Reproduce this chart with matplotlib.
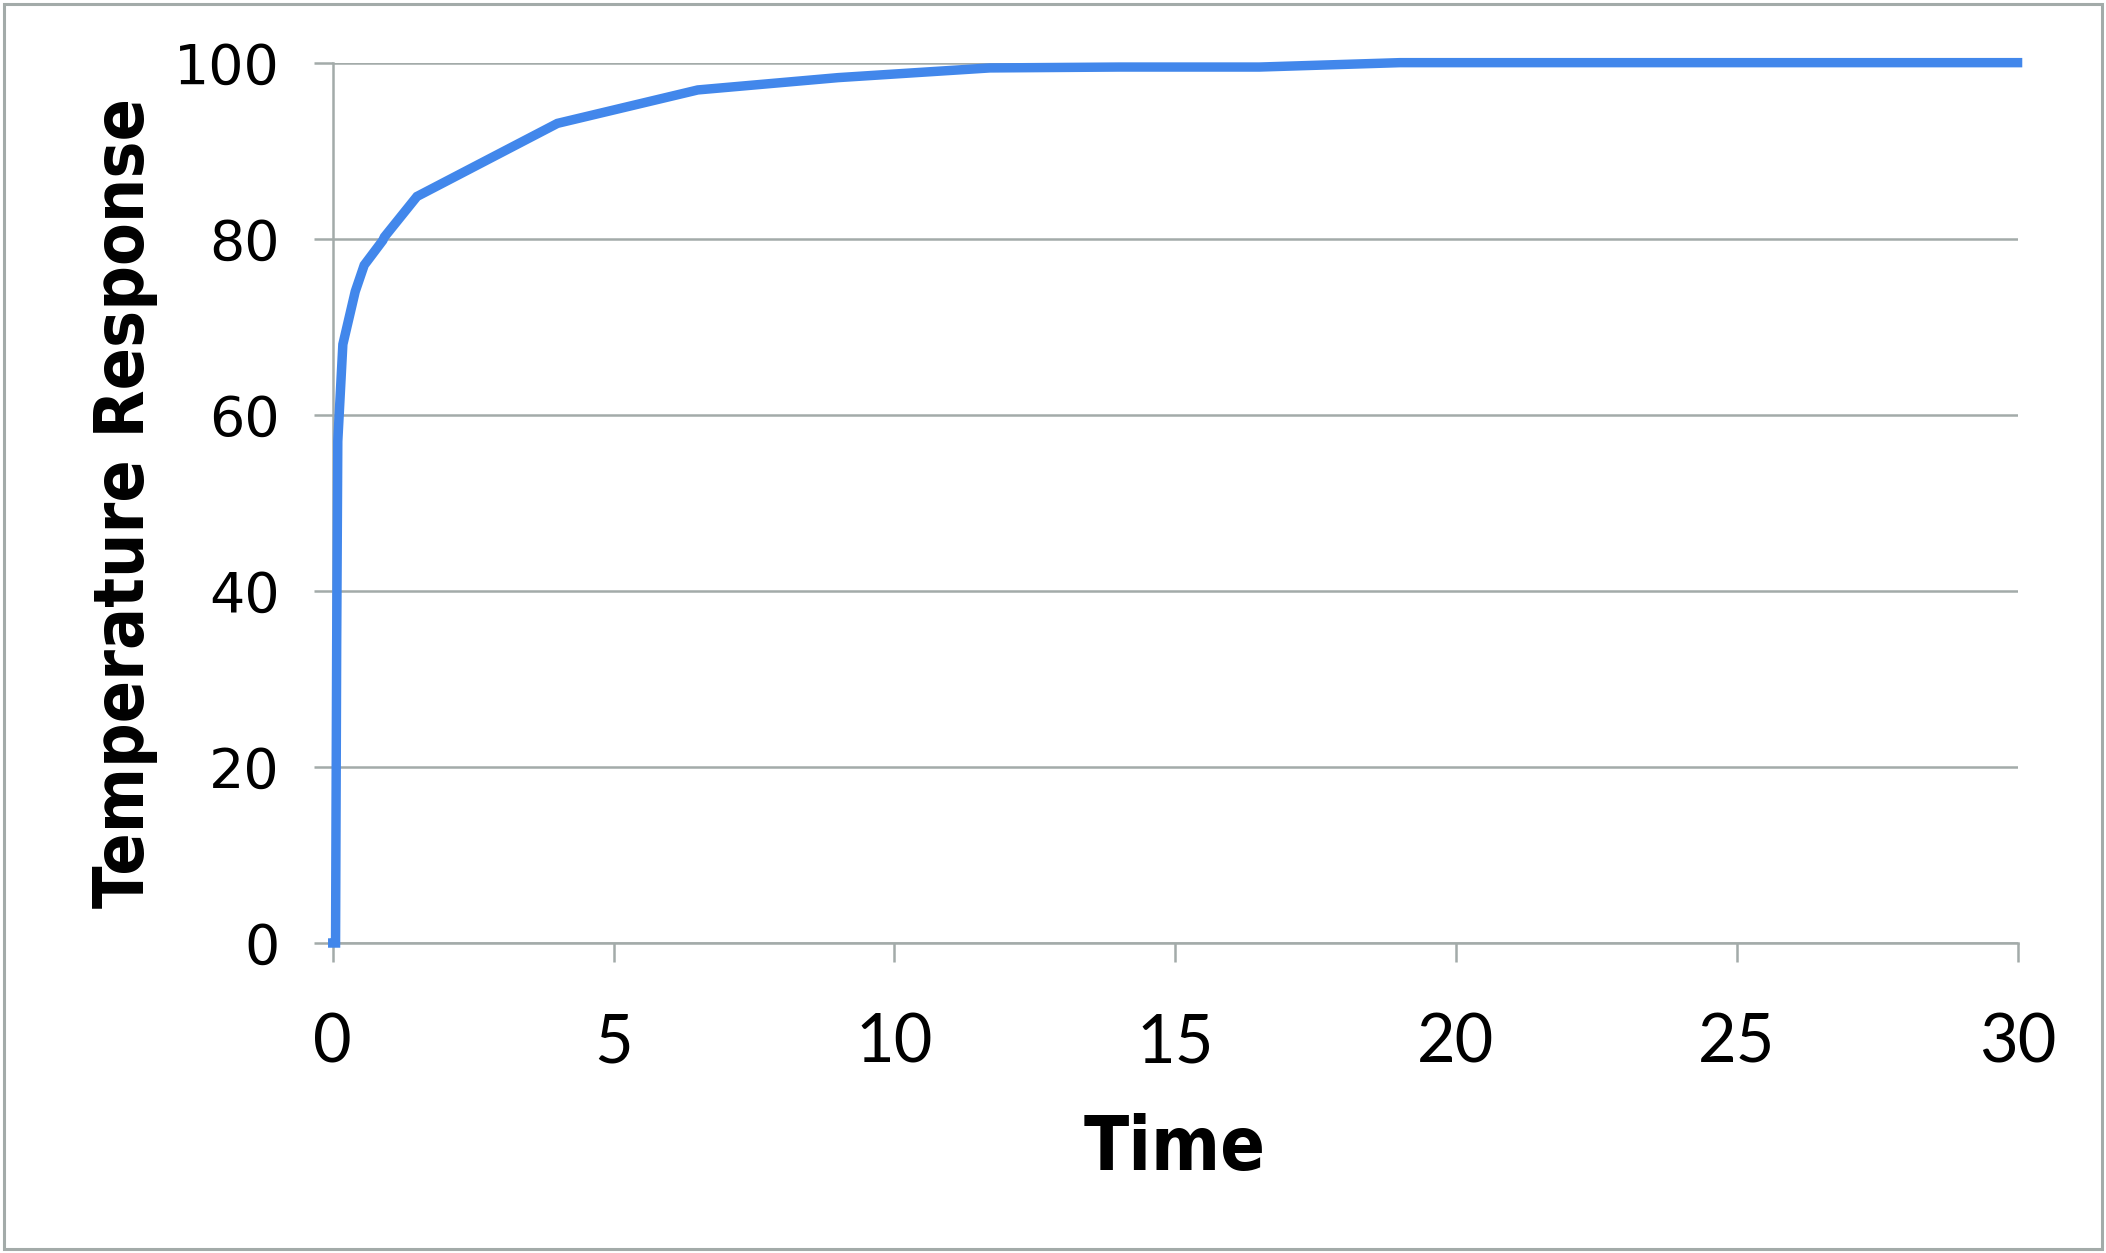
import numpy as np
import matplotlib
matplotlib.use("Agg")
import matplotlib.pyplot as plt
from matplotlib.patches import Rectangle


# values
time = [0.0, 0.05, 0.07, 0.09, 0.18, 0.4, 0.56, 0.89, 0.92, 1.5, 4.0, 6.5, 9.0, 11.7, 14.0, 16.5, 19.0, 30.0]
response = [0.0, 0.0, 34.0, 57.0, 68.0, 74.0, 77.0, 79.8, 80.2, 84.8, 93.1, 96.9, 98.3, 99.4, 99.5, 99.5, 100.0, 100.0]

x_ticks = [0, 5, 10, 15, 20, 25, 30]
y_ticks = [0, 20, 40, 60, 80, 100]

line_color = "#4287eb"
grid_color = "#a3aba9"

fig = plt.figure(figsize=(21.06, 12.53), dpi=100)
ax = fig.add_axes([0.158, 0.2474, 0.958 - 0.158, 0.950 - 0.2474])

ax.plot(time, response, color=line_color, lw=6.8, solid_joinstyle="miter", zorder=3, clip_on=False)

ax.set_xlim(0, 30)
ax.set_ylim(0, 100)
ax.set_xticks(x_ticks)
ax.set_yticks(y_ticks)

ax.grid(axis="y", color=grid_color, lw=1.8)
ax.set_axisbelow(True)
for side in ["top", "right"]:
    ax.spines[side].set_visible(False)
for side in ["left", "bottom"]:
    ax.spines[side].set_color(grid_color)
    ax.spines[side].set_linewidth(1.8)

ax.tick_params(axis="both", direction="out", length=14, width=1.8, color=grid_color)
ax.tick_params(axis="x", pad=36)
ax.tick_params(axis="y", pad=24)
for lab in ax.get_xticklabels():
    lab.set_fontfamily("Lato")
    lab.set_fontsize(48)
for lab in ax.get_yticklabels():
    lab.set_fontfamily("DejaVu Sans")
    lab.set_fontsize(40)

ax.set_xlabel("Time", fontfamily="DejaVu Sans", fontstretch="condensed", fontweight="bold", fontsize=53, labelpad=28)
ax.set_ylabel("Temperature Response", fontfamily="DejaVu Sans", fontstretch="condensed", fontweight="bold", fontsize=50, labelpad=12)

# outer frame round the whole chart
fig.patches.append(Rectangle((0.002, 0.003), 0.996, 0.994, transform=fig.transFigure,
                             fill=False, edgecolor=grid_color, lw=2.2))

fig.savefig("out.png", dpi=100, facecolor="white")
